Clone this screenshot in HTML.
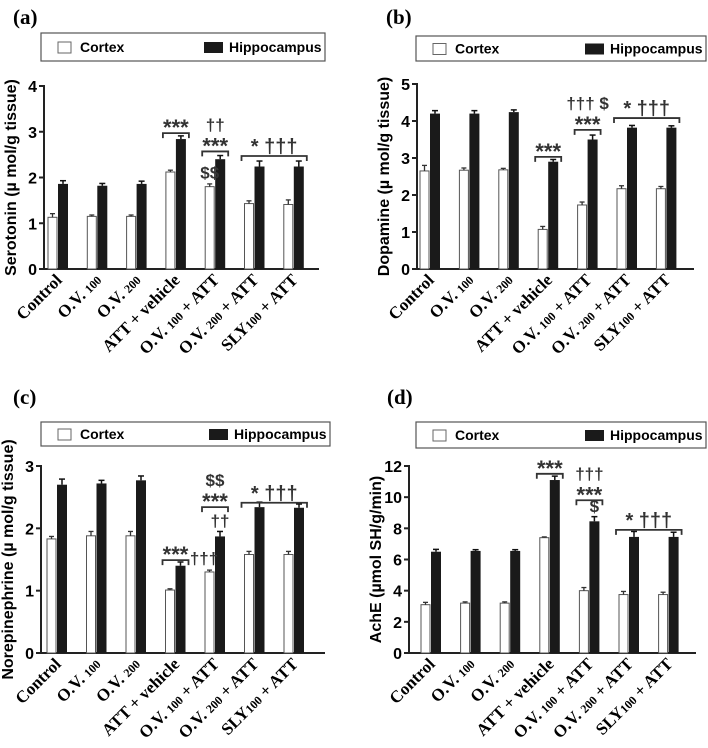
<!DOCTYPE html>
<html><head><meta charset="utf-8">
<style>
html,body{margin:0;padding:0;background:#fff;}
svg{display:block;}
.tk{font:bold 16px "Liberation Sans",sans-serif;}
.yt{font:bold 16px "Liberation Sans",sans-serif;}
.xl{font:bold 17px "Liberation Serif",serif;}
.pt{font:bold 21px "Liberation Serif",serif;}
.lg{font:bold 14px "Liberation Sans",sans-serif;}
.an{font:bold 17px "Liberation Sans","DejaVu Sans",sans-serif;fill:#333;}
.ast{font:bold 22px "Liberation Sans","DejaVu Sans",sans-serif;fill:#333;}
</style></head>
<body>
<svg id="fig" width="708" height="748" viewBox="0 0 708 748" xmlns="http://www.w3.org/2000/svg"></svg>
<script>
const categories = ["Control","O.V. 100","O.V. 200","ATT + vehicle","O.V. 100 + ATT","O.V. 200 + ATT","SLY100 + ATT"];
const serotoninCortex = [1.13,1.15,1.15,2.12,1.8,1.43,1.41];
const serotoninCortexErr = [0.08,0.03,0.03,0.04,0.06,0.06,0.1];
const serotoninHippo = [1.86,1.82,1.86,2.84,2.4,2.24,2.24];
const serotoninHippoErr = [0.07,0.05,0.06,0.07,0.08,0.12,0.12];
const dopamineCortex = [2.65,2.67,2.68,1.07,1.73,2.17,2.17];
const dopamineCortexErr = [0.15,0.06,0.04,0.08,0.08,0.08,0.06];
const dopamineHippo = [4.2,4.2,4.24,2.9,3.5,3.82,3.82];
const dopamineHippoErr = [0.08,0.08,0.06,0.06,0.12,0.06,0.05];
const norepiCortex = [1.83,1.88,1.88,1.01,1.3,1.58,1.58];
const norepiCortexErr = [0.04,0.07,0.07,0.02,0.03,0.05,0.05];
const norepiHippo = [2.7,2.72,2.77,1.4,1.87,2.34,2.33];
const norepiHippoErr = [0.09,0.05,0.07,0.06,0.08,0.08,0.06];
const acheCortex = [3.1,3.2,3.2,7.4,4.0,3.75,3.75];
const acheCortexErr = [0.15,0.08,0.08,0.05,0.2,0.2,0.15];
const acheHippo = [6.5,6.55,6.55,11.1,8.45,7.45,7.45];
const acheHippoErr = [0.15,0.08,0.08,0.25,0.3,0.35,0.3];
const serotoninTicks = [0,1,2,3,4];
const dopamineTicks = [0,1,2,3,4,5];
const norepiTicks = [0,1,2,3];
const acheTicks = [0,2,4,6,8,10,12];

const NS="http://www.w3.org/2000/svg";
const fig=document.getElementById('fig');
function mk(tag,attrs,parent,text){const e=document.createElementNS(NS,tag);for(const k in attrs)e.setAttribute(k,attrs[k]);if(text!==undefined)e.textContent=text;(parent||fig).appendChild(e);return e;}

const panels=[
 {id:'a',title:'(a)',tx:13,ty:24,lg:[41,33,284,28],ax:44,y0:269,yTop:86,max:4,xEnd:319,bx:48,sp:39.3,
  ylab:'Serotonin (\u00b5 mol/g tissue)',ticks:serotoninTicks,c:serotoninCortex,ce:serotoninCortexErr,h:serotoninHippo,he:serotoninHippoErr,
  br:[[3,3,2.97,['***']],[4,4,2.57,['***','\u2020\u2020']],[5,6,2.47,['* \u2020\u2020\u2020']]],
  extra:[[4,'c',1.98,'$$']]},
 {id:'b',title:'(b)',tx:386,ty:24,lg:[416,36,290,25],ax:417,y0:269,yTop:84,max:5,xEnd:694,bx:420,sp:39.4,
  ylab:'Dopamine (\u00b5 mol/g tissue)',ticks:dopamineTicks,c:dopamineCortex,ce:dopamineCortexErr,h:dopamineHippo,he:dopamineHippoErr,
  br:[[3,3,3.03,['***']],[4,4,3.76,['***','\u2020\u2020\u2020 $']],[5,6,4.08,['* \u2020\u2020\u2020']]],extra:[]},
 {id:'c',title:'(c)',tx:13,ty:404,lg:[41,422,289,24],ax:41,y0:653,yTop:466,max:3,xEnd:325,bx:47,sp:39.5,
  ylab:'Norepinephrine (\u00b5 mol/g tissue)',ticks:norepiTicks,c:norepiCortex,ce:norepiCortexErr,h:norepiHippo,he:norepiHippoErr,
  br:[[3,3,1.49,['***']],[4,4,2.34,['***','$$']],[5,6,2.41,['* \u2020\u2020\u2020']]],
  extra:[[4,'l',1.43,'\u2020\u2020\u2020'],[4,'h',2.03,'\u2020\u2020']]},
 {id:'d',title:'(d)',tx:387,ty:404,lg:[416,422,290,26],ax:409,y0:653,yTop:466,max:12,xEnd:696,bx:421,sp:39.6,
  ylab:'AchE (\u00b5mol SH/g/min)',ticks:acheTicks,c:acheCortex,ce:acheCortexErr,h:acheHippo,he:acheHippoErr,
  br:[[3,3,11.5,['***']],[4,4,9.8,['***','\u2020\u2020\u2020']],[5,6,7.9,['* \u2020\u2020\u2020']]],
  extra:[[4,'h',9.05,'$']]}
];

panels.forEach(p=>{
 const g=mk('g',{});
 
 
 const Y=v=>p.y0-(v/p.max)*(p.y0-p.yTop);
 const X=i=>p.bx+i*p.sp;
 const t=mk('text',{x:p.tx,y:p.ty,class:'pt'},g,p.title);
 
 
 const lg=mk('g',{},g);
 
 
 const [lx,ly,lw,lh]=p.lg;
 mk('rect',{x:lx,y:ly,width:lw,height:lh,fill:'#fff',stroke:'#555','stroke-width':1.2},lg);
 const cy=ly+lh/2;
 const s1=mk('rect',{x:lx+17,y:cy-5,width:13,height:11,fill:'#fff',stroke:'#666','stroke-width':1},lg);
 
 
 mk('text',{x:lx+39,y:cy+5,class:'lg'},lg,'Cortex');
 const s2=mk('rect',{x:lx+lw-121,y:cy-5,width:19,height:11,fill:'#1a1a1a'},lg);
 
 
 mk('text',{x:lx+lw-96,y:cy+5,class:'lg'},lg,'Hippocampus');
 const ya=mk('line',{x1:p.ax,y1:p.yTop-1,x2:p.ax,y2:p.y0+1,stroke:'#222','stroke-width':2},g);
 
 
 const xa=mk('line',{x1:p.ax-1,y1:p.y0,x2:p.xEnd,y2:p.y0,stroke:'#222','stroke-width':2},g);
 
 
 p.ticks.forEach(v=>{
  mk('line',{x1:p.ax-5,y1:Y(v),x2:p.ax,y2:Y(v),stroke:'#222','stroke-width':2},g);
  const tl=mk('text',{x:p.ax-7,y:Y(v)+6,class:'tk','text-anchor':'end'},g,String(v));
  
  
 });
 const yl=mk('text',{x:0,y:0,class:'yt','text-anchor':'middle',transform:`translate(${p.ax-28},${(p.y0+p.yTop)/2}) rotate(-90)`},g,p.ylab);
 
 
 categories.forEach((cat,i)=>{
  const xc=X(i), xh=X(i)+10;
  const bc=mk('rect',{x:xc,y:Y(p.c[i]),width:9,height:p.y0-Y(p.c[i]),fill:'#fff',stroke:'#555','stroke-width':1},g);
  
  
  mk('line',{x1:xc+4.5,y1:Y(p.c[i]),x2:xc+4.5,y2:Y(p.c[i]+p.ce[i]),stroke:'#333','stroke-width':1.3},g);
  mk('line',{x1:xc+2,y1:Y(p.c[i]+p.ce[i]),x2:xc+7,y2:Y(p.c[i]+p.ce[i]),stroke:'#333','stroke-width':1.3},g);
  mk('line',{x1:xh+5,y1:Y(p.h[i]),x2:xh+5,y2:Y(p.h[i]+p.he[i]),stroke:'#111','stroke-width':1.5},g);
  mk('line',{x1:xh+2,y1:Y(p.h[i]+p.he[i]),x2:xh+8,y2:Y(p.h[i]+p.he[i]),stroke:'#111','stroke-width':1.5},g);
  const bh=mk('rect',{x:xh,y:Y(p.h[i]),width:10,height:p.y0-Y(p.h[i]),fill:'#1a1a1a'},g);
  
  
  const cx=xc+15, cyy=p.y0+12;
  const xl=mk('text',{x:0,y:0,class:'xl','text-anchor':'end',transform:`translate(${cx},${cyy}) rotate(-45)`},g);
  
  
  const m=cat.match(/^(O\.V\. |SLY)(\d+)(.*)$/);
  if(m){
   mk('tspan',{},xl,m[1]);
   mk('tspan',{'font-size':'12'},xl,m[2]);
   if(m[3]) mk('tspan',{},xl,m[3]);
  } else xl.textContent=cat;
 });
 p.br.forEach(b=>{
  const x1=X(b[0])-3, x2=X(b[1])+23, yy=Y(b[2]);
  const br=mk('path',{d:`M${x1},${yy+5} L${x1},${yy} L${x2},${yy} L${x2},${yy+5}`,fill:'none',stroke:'#333','stroke-width':1.8},g);
  
  
  b[3].forEach((s,k)=>{
   const isAst=s==='***';
   const at=mk('text',{x:(x1+x2)/2,y:yy+(isAst?2:-3)-(k>0?18:0),class:isAst?'ast':'an','text-anchor':'middle'},g,s);
   if(s.startsWith('* ')){at.setAttribute('style','font-size:20px');}
   
   
  });
 });
 p.extra.forEach(e=>{
  let x;
  if(e[1]==='c') x=X(e[0])+4.5; else if(e[1]==='h') x=X(e[0])+15; else x=X(e[0])-1;
  const at=mk('text',{x:x,y:Y(e[2]),class:'an','text-anchor':'middle'},g,e[3]);
  
  
 });
});
</script>
</body></html>
